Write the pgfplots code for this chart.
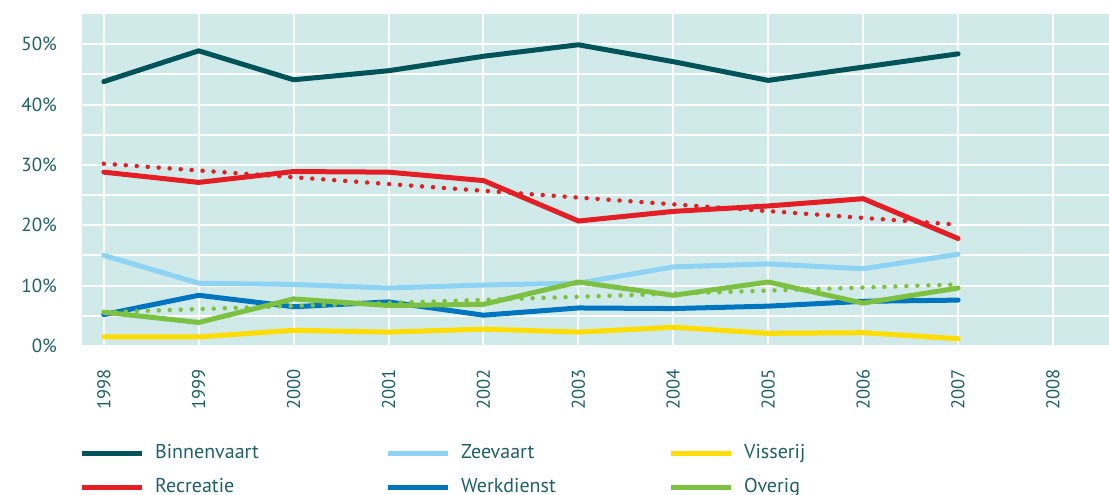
\documentclass[border=0pt]{standalone}
\usepackage{fontspec}
\setmainfont{PT Sans}
\usepackage{pgfplots}
\pgfplotsset{compat=1.18}
\usetikzlibrary{calc}

\definecolor{bgteal}{HTML}{D0EAEA}
\definecolor{txt}{HTML}{1F5F66}
\definecolor{binnen}{HTML}{005359}
\definecolor{recr}{HTML}{E31E24}
\definecolor{zee}{HTML}{8ED3F4}
\definecolor{werk}{HTML}{0075BF}
\definecolor{vis}{HTML}{FFDD00}
\definecolor{overig}{HTML}{7DC143}

\tikzset{
  main/.style={line width=5pt, line join=round, line cap=round},
  trend/.style={line width=4.5pt, line cap=round, dash pattern=on 0pt off 11pt}}

\begin{document}
\begin{tikzpicture}
\begin{axis}[name=ax, scale only axis, width=1027pt, height=332pt,
  xmin=1997.77, xmax=2008.59, ymin=0, ymax=55,
  axis background/.style={fill=bgteal}, axis line style={draw=none},
  major tick length=0pt, minor tick length=0pt,
  xtick={1998,...,2008}, ytick={0,10,...,50}, minor ytick={5,15,25,35,45},
  grid=both, major grid style={white, line width=2pt}, minor grid style={white, line width=2pt},
  /pgf/number format/assume math mode=true,
  x tick label style={/pgf/number format/1000 sep={}, rotate=90, anchor=east, inner sep=0pt, xshift=-23pt,
    font=\fontsize{18.5}{22}\selectfont, text=txt},
  y tick label style={anchor=east, inner sep=0pt, xshift=-25pt,
    font=\fontsize{19}{22}\selectfont, text=txt},
  yticklabel={\pgfmathprintnumber{\tick}\%},
  legend columns=3,
  legend image code/.code={\draw[#1, line cap=butt, line width=5pt] (0pt,0pt) -- (60pt,0pt);},
  legend style={at={(0,0)}, anchor=north west, xshift=-3pt, yshift=-97pt, draw=none, fill=none, inner sep=0pt,
    column sep=0pt, row sep=14pt, cells={anchor=west},
    nodes={inner sep=0pt, text height=15pt, text depth=5pt, font=\fontsize{20}{24}\selectfont, text=txt}},
]
% Binnenvaart
\addplot[binnen, main] coordinates {(1998,43.8) (1999,48.9) (2000,44.1) (2001,45.6) (2002,48.0) (2003,49.9) (2004,47.1) (2005,44.0) (2006,46.2) (2007,48.4)};
\addlegendentry{\hspace*{11pt}\makebox[230pt][l]{Binnenvaart}}
% Zeevaart
\addplot[zee, main] coordinates {(1998,15.0) (1999,10.4) (2000,10.2) (2001,9.6) (2002,10.1) (2003,10.4) (2004,13.1) (2005,13.6) (2006,12.8) (2007,15.2)};
\addlegendentry{\hspace*{11pt}\makebox[207pt][l]{Zeevaart}}
% Visserij
\addplot[vis, main] coordinates {(1998,1.5) (1999,1.5) (2000,2.6) (2001,2.3) (2002,2.8) (2003,2.3) (2004,3.1) (2005,2.1) (2006,2.2) (2007,1.2)};
\addlegendentry{\hspace*{11pt}Visserij}
% Recreatie
\addplot[recr, main] coordinates {(1998,28.8) (1999,27.1) (2000,28.9) (2001,28.8) (2002,27.4) (2003,20.7) (2004,22.3) (2005,23.2) (2006,24.4) (2007,17.8)};
\addlegendentry{\hspace*{11pt}Recreatie}
% Werkdienst
\addplot[werk, main] coordinates {(1998,5.2) (1999,8.4) (2000,6.5) (2001,7.3) (2002,5.1) (2003,6.3) (2004,6.2) (2005,6.6) (2006,7.4) (2007,7.6)};
\addlegendentry{\hspace*{11pt}Werkdienst}
% Overig
\addplot[overig, main] coordinates {(1998,5.6) (1999,3.9) (2000,7.8) (2001,6.7) (2002,6.9) (2003,10.6) (2004,8.4) (2005,10.6) (2006,7.1) (2007,9.6)};
\addlegendentry{\hspace*{11pt}Overig}
% trend lines
\addplot[recr, trend, forget plot] coordinates {(1998,30.2) (2007,20.1)};
\addplot[overig, trend, forget plot] coordinates {(1998,5.6) (2007,10.2)};
\end{axis}
\pgfresetboundingbox
\path[use as bounding box] ($(ax.south west)+(-82pt,-149pt)$) rectangle ($(ax.north east)+(0pt,14pt)$);
\end{tikzpicture}
\end{document}
